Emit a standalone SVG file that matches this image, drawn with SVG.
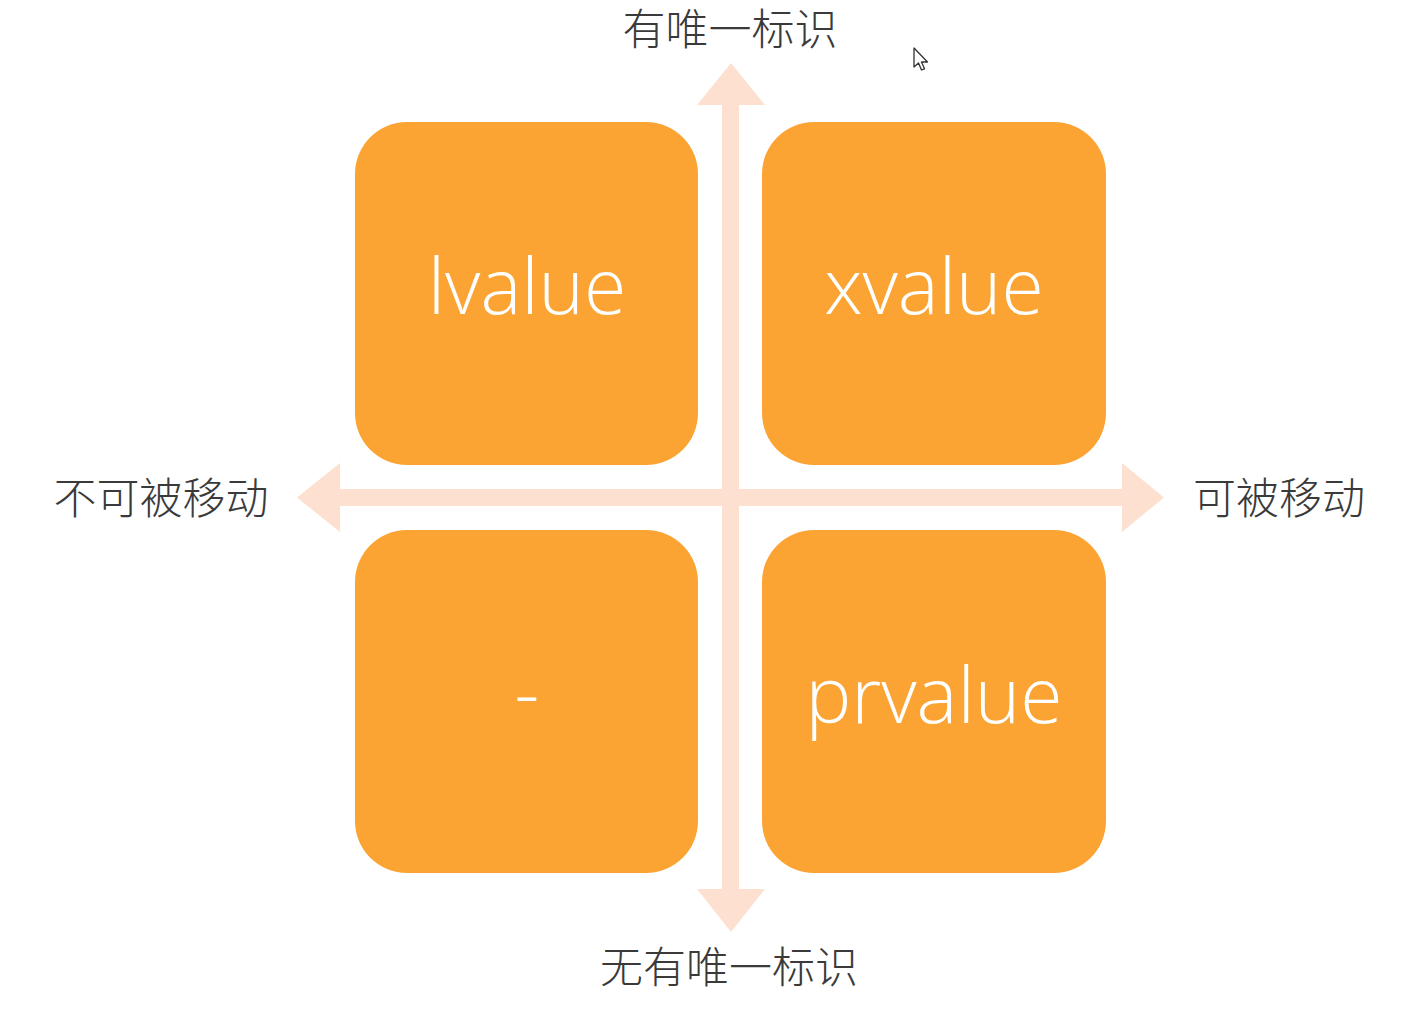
<svg xmlns="http://www.w3.org/2000/svg" width="1426" height="1010" viewBox="0 0 1426 1010">
<style>
.box{fill:#FBA433;}
.arrow{fill:#FDE0D0;}
.val{font-family:"Open Sans","Liberation Sans",sans-serif;font-weight:300;font-size:77px;fill:#FFFFFF;text-anchor:middle;}
.lbl{font-family:"Noto Sans CJK SC","Noto Sans",sans-serif;font-weight:300;font-size:43px;fill:#3A3A3A;text-anchor:middle;}
</style>
<rect width="1426" height="1010" fill="#FFFFFF"/>
<g id="connectors">
<polygon class="arrow" points="731,63 765,105 739,105 739,889 765,889 731,932 697,889 722,889 722,105 697,105"/>
<polygon class="arrow" points="297,497.5 340,463 340,489 1122,489 1122,463 1164,497.5 1122,532 1122,506 340,506 340,532"/>
</g>
<g id="node-lvalue">
<rect class="box" x="355" y="122" width="343" height="343" rx="52"/>
<text class="val" x="527" y="314">lvalue</text>
</g>
<g id="node-xvalue">
<rect class="box" x="762" y="122" width="344" height="343" rx="52"/>
<text class="val" x="934" y="314">xvalue</text>
</g>
<g id="node-none">
<rect class="box" x="355" y="530" width="343" height="343" rx="52"/>
<text class="val" x="527" y="720">-</text>
</g>
<g id="node-prvalue">
<rect class="box" x="762" y="530" width="344" height="343" rx="52"/>
<text class="val" x="934" y="723">prvalue</text>
</g>
<g id="label-top"><text class="lbl" x="730" y="45">有唯一标识</text></g>
<g id="label-bottom"><text class="lbl" x="729" y="983">无有唯一标识</text></g>
<g id="label-left"><text class="lbl" x="161" y="514">不可被移动</text></g>
<g id="label-right"><text class="lbl" x="1279" y="514">可被移动</text></g>
<path d="M914,48 L914,67 L918.5,63 L921.5,70 L924.5,68.8 L921.5,62 L927.5,62 Z" fill="#FFFFFF" stroke="#333333" stroke-width="1.3" stroke-linejoin="round"/>
</svg>
